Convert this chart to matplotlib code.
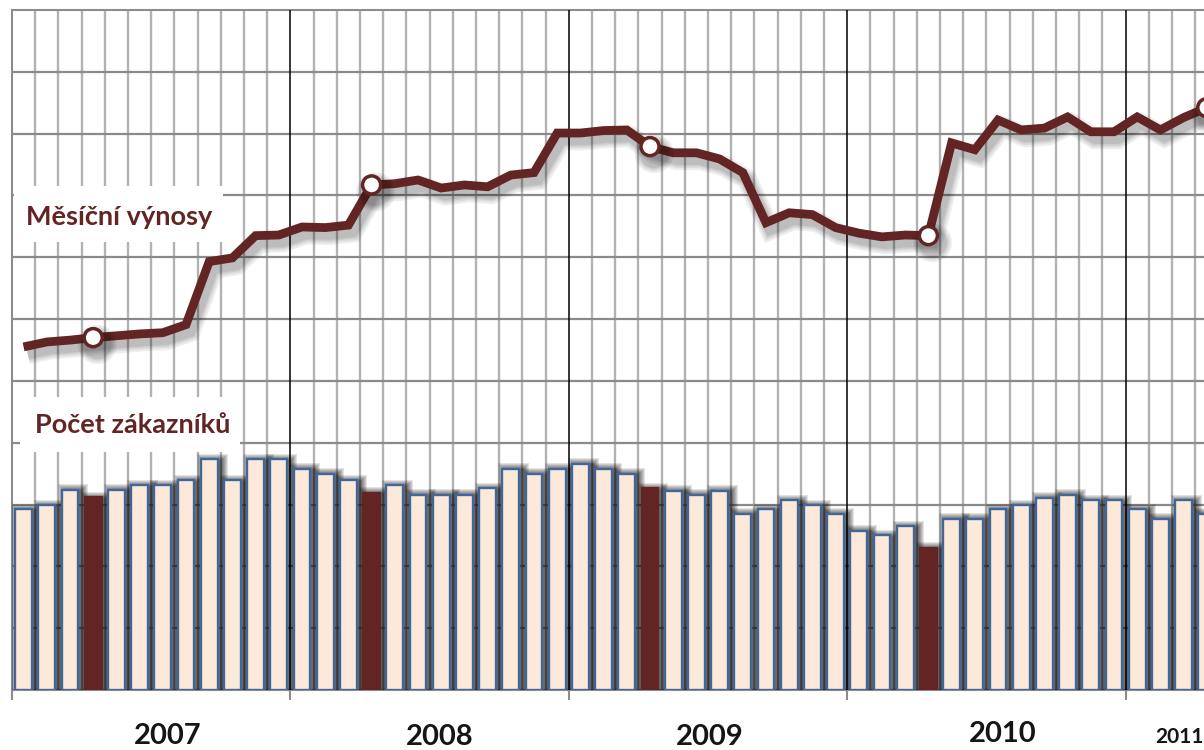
import matplotlib
matplotlib.use("Agg")
import matplotlib.pyplot as plt
import matplotlib.patheffects as pe
from matplotlib.patches import Rectangle
from matplotlib.transforms import blended_transform_factory
import numpy as np

# ---------------- data ----------------
years = ["2007", "2008", "2009", "2010", "2011"]
months_per_year = 12

customers_2007 = [29.2, 29.9, 32.4, 31.2, 32.4, 33.1, 33.1, 33.9, 37.3, 33.9, 37.3, 37.3]
customers_2008 = [35.8, 35.0, 33.9, 31.9, 33.1, 31.6, 31.6, 31.6, 32.6, 35.8, 35.0, 35.8]
customers_2009 = [36.6, 35.8, 35.0, 32.6, 32.2, 31.6, 32.2, 28.5, 29.2, 30.7, 29.9, 28.5]
customers_2010 = [25.8, 25.0, 26.5, 23.0, 27.7, 27.7, 29.2, 29.9, 31.1, 31.6, 30.7, 30.7]
customers_2011 = [29.2, 27.7, 30.7, 28.5]

revenue_2007 = [55.5, 56.3, 56.6, 57.0, 57.3, 57.6, 57.8, 59.1, 69.3, 69.9, 73.5, 73.6]
revenue_2008 = [74.9, 74.8, 75.2, 81.7, 81.9, 82.5, 81.2, 81.7, 81.4, 83.3, 83.7, 90.1]
revenue_2009 = [90.1, 90.5, 90.6, 87.9, 86.9, 86.9, 85.9, 83.7, 75.6, 77.2, 76.9, 74.8]
revenue_2010 = [73.9, 73.3, 73.6, 73.5, 88.5, 87.4, 92.2, 90.6, 90.9, 92.7, 90.3, 90.3]
revenue_2011 = [92.7, 90.6, 92.6, 94.2]

# highlighted months (index into the monthly series)
highlight_bars = [3, 15, 27, 39]          # April 2007-2010
highlight_points = [3, 15, 27, 39, 51]    # April 2007-2011

label_revenue = "Měsíční výnosy"
label_customers = "Počet zákazníků"

customers = np.array(customers_2007 + customers_2008 + customers_2009 + customers_2010 + customers_2011)
revenue = np.array(revenue_2007 + revenue_2008 + revenue_2009 + revenue_2010 + revenue_2011)
n = len(customers)
x = np.arange(n) + 0.5
is_hl = np.isin(np.arange(n), highlight_bars)

# ---------------- layout (pixels) ----------------
W, H = 1204, 750
ax_left_px, ax_top_px, ax_bot_px = 12, 10, 690
month_px = 23.2
total_months = 60
ymax = 110
ax_w_px = total_months * month_px
ax_h_px = ax_bot_px - ax_top_px
px_per_y = ax_h_px / ymax

BROWN = "#632523"
FILL = "#fde9d9"
EDGE = "#41679a"
FONT = ["Lato", "DejaVu Sans"]

fig = plt.figure(figsize=(W / 100, H / 100), dpi=100)
ax = fig.add_axes([ax_left_px / W, (H - ax_bot_px) / H, ax_w_px / W, ax_h_px / H])
ax.set_xlim(0, total_months)
ax.set_ylim(0, ymax)
ax.set_xticks([])
ax.set_yticks([])
ax.spines["right"].set_visible(False)
for s in ["left", "bottom", "top"]:
    ax.spines[s].set_color("#8c8c8c")
    ax.spines[s].set_linewidth(1.5)
    ax.spines[s].set_zorder(2)

def ax_frac(px, py):
    return (px - ax_left_px) / ax_w_px, (ax_bot_px - py) / ax_h_px

# grid lines
month_edges = np.arange(1, total_months)
year_edges = np.arange(months_per_year, total_months, months_per_year)
minor = [m for m in month_edges if m % months_per_year != 0]
ax.vlines(minor, 0, ymax, color="#b2b2b2", lw=1.7, zorder=2)
ax.hlines(np.arange(10, ymax, 10), 0, total_months, color="#8a8a8a", lw=1.6, zorder=2)
ax.vlines(year_edges, 0, ymax, color="black", lw=1.1, zorder=2.1)

# bottom ticks at year boundaries
tick_len = 10 / px_per_y
ax.vlines(np.concatenate([[0], year_edges]), -tick_len, 0, color="#8c8c8c", lw=1.5,
          zorder=2, clip_on=False)

# white label boxes
for (x0, y0, x1, y1) in [(14, 186, 223, 242), (20, 397, 240, 452)]:
    fx0, fy1 = ax_frac(x0, y0)
    fx1, fy0 = ax_frac(x1, y1)
    ax.add_patch(Rectangle((fx0, fy0), fx1 - fx0, fy1 - fy0, transform=ax.transAxes,
                           facecolor="white", edgecolor="none", zorder=2.5))

# bar shadows (soft blur)
bw = 0.72
for k in range(1, 8):
    g = k * 1.0
    ax.bar(x + 3 / month_px, customers + (g - 1.5) / px_per_y, width=bw + 2 * g / month_px,
           color="black", alpha=0.11, linewidth=0, zorder=2.3)

colors = [BROWN if h else FILL for h in is_hl]
edges = [BROWN if h else EDGE for h in is_hl]
ax.bar(x, customers, width=bw, color=colors, edgecolor=edges, linewidth=1.7, zorder=3)

# revenue line with shadow
shadow = [pe.SimpleLineShadow(offset=(3, -5), shadow_color="black", alpha=0.07, rho=1, linewidth=w)
          for w in (15, 12, 9.5, 7.5)]
ax.plot(x, revenue, color=BROWN, lw=6.3, solid_joinstyle="miter", solid_capstyle="butt",
        marker="o", markevery=highlight_points, markersize=13,
        markerfacecolor="white", markeredgecolor=BROWN, markeredgewidth=2.5,
        zorder=5, path_effects=shadow + [pe.Normal()])

# labels
fx, fy = ax_frac(26, 225)
ax.text(fx, fy, label_revenue, transform=ax.transAxes, fontsize=19.5, fontweight="bold",
        family=FONT, color=BROWN, va="baseline", ha="left", zorder=6)
fx, fy = ax_frac(35, 433)
ax.text(fx, fy, label_customers, transform=ax.transAxes, fontsize=19.5, fontweight="bold",
        family=FONT, color=BROWN, va="baseline", ha="left", zorder=6)

# year labels (slightly staggered as in original)
year_label_x = [6.72, 18.45, 30.09, 42.7, 50.3]
year_label_ypx = [736, 737, 737, 734, 737]
year_label_size = [21, 21, 21, 21, 15]
trans = blended_transform_factory(ax.transData, ax.transAxes)
for yl, xl, ypx, fs in zip(years, year_label_x, year_label_ypx, year_label_size):
    ax.text(xl, (ax_bot_px - ypx) / ax_h_px, yl, transform=trans, fontsize=fs,
            fontweight="bold", family=FONT, color="#151515",
            ha="center", va="center", clip_on=False)

fig.savefig("out.png", dpi=100)
